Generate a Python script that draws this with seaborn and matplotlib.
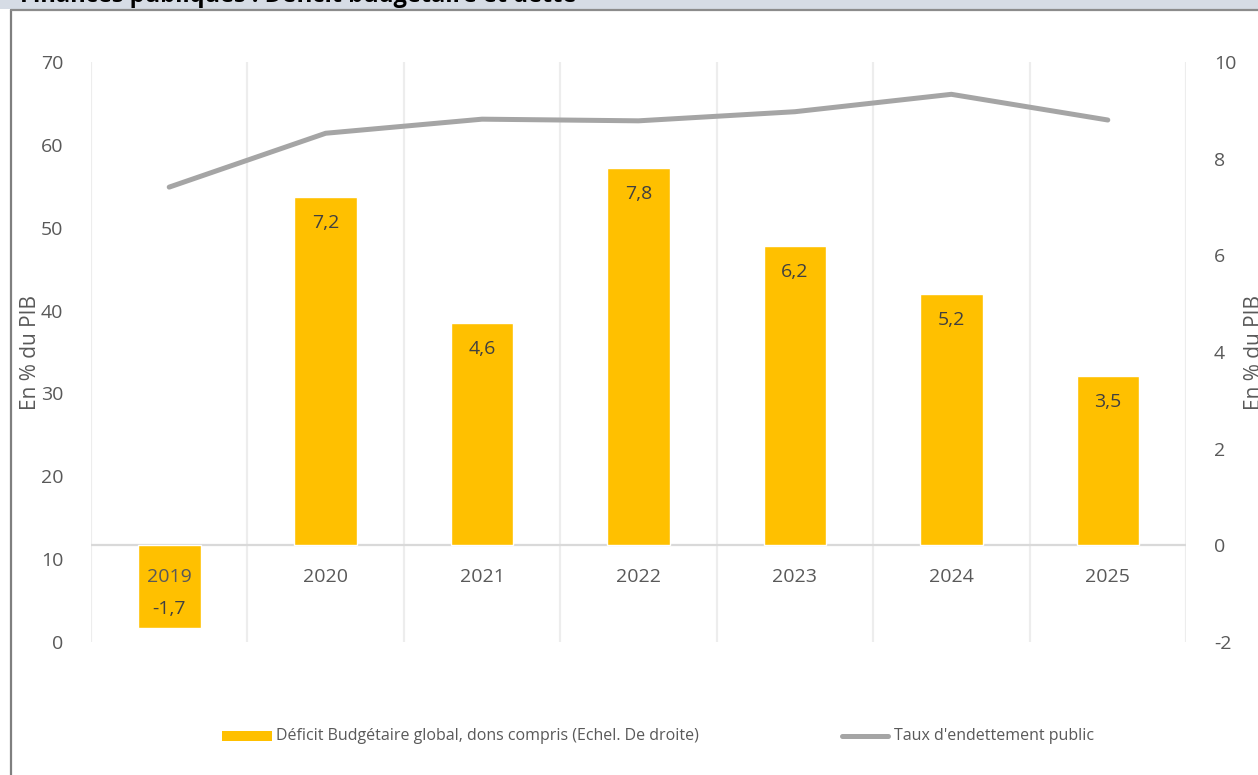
import numpy as np
import pandas as pd
import matplotlib
matplotlib.use("Agg")
import matplotlib.pyplot as plt
from matplotlib.patches import Rectangle
from matplotlib.lines import Line2D
import seaborn as sns

years = ["2019", "2020", "2021", "2022", "2023", "2024", "2025"]
deficit = [-1.7, 7.2, 4.6, 7.8, 6.2, 5.2, 3.5]
dette = [54.9, 61.4, 63.1, 62.9, 64.0, 66.1, 63.0]
deficit_labels = ["-1,7", "7,2", "4,6", "7,8", "6,2", "5,2", "3,5"]
left_ticks = [0, 10, 20, 30, 40, 50, 60, 70]
right_ticks = [-2, 0, 2, 4, 6, 8, 10]

title = "Finances publiques : Déficit budgétaire et dette"
ylabel = "En % du PIB"
leg_bar = "Déficit Budgétaire global, dons compris (Echel. De droite)"
leg_line = "Taux d'endettement public"

sns.set_theme(style="white")
plt.rcParams['font.family'] = ['Open Sans', 'DejaVu Sans']

BAR = "#FFC000"
LINE = "#A5A5A5"
TXT = "#595959"

df = pd.DataFrame({"year": years, "deficit": deficit, "dette": dette,
                   "pos": np.arange(len(years))})

fig = plt.figure(figsize=(12.58, 7.75), dpi=100)
W, H = 1258, 775

# Title band and frame
fig.patches.append(Rectangle((0, 1 - 9 / H), 1, 9 / H, transform=fig.transFigure,
                             facecolor="#D6DCE5", edgecolor="none", zorder=0))
fig.text(20 / W, 1 - 2 / H, title, fontsize=17, fontweight="bold", color="black",
         va="baseline", ha="left", family=['Open Sans', 'DejaVu Sans'])
fig.lines.append(Line2D([10.5 / W, 10.5 / W], [0, 1 - 9.5 / H], transform=fig.transFigure,
                        color="#7F7F7F", lw=1.6))
fig.lines.append(Line2D([10.5 / W, 1], [1 - 9.5 / H, 1 - 9.5 / H], transform=fig.transFigure,
                        color="#8C8C8C", lw=1.6))

ax = fig.add_axes([91 / W, 1 - 642 / H, (1186 - 91) / W, (642 - 62) / H])
ax2 = ax.twinx()
ax.set_zorder(2)
ax.patch.set_visible(False)

# Bars on right axis
sns.barplot(data=df, x="year", y="deficit", ax=ax2, color=BAR, width=0.4,
            saturation=1, zorder=3)
ax2.set_ylim(-2, 10)
ax2.set_xlim(-0.5, 6.5)
ax2.set_yticks(right_ticks)
ax2.set_yticklabels([str(t) for t in right_ticks])
ax2.set_xlabel("")
ax2.set_ylabel(ylabel, fontsize=15, color=TXT, labelpad=6)

# vertical gridlines at category boundaries and zero line
for b in np.arange(-0.5, 7.0, 1.0):
    ax2.axvline(b, color="#EDEDED", lw=1.6, zorder=0)
ax2.axhline(0, color="#D9D9D9", lw=1.6, zorder=1)

# Line on left axis
sns.lineplot(data=df, x="pos", y="dette", ax=ax, color=LINE, lw=3.6,
             solid_capstyle="round", zorder=4)
ax.set_ylim(0, 70)
ax.set_xlim(-0.5, 6.5)
ax.set_yticks(left_ticks)
ax.set_yticklabels([str(t) for t in left_ticks])
ax.set_xticks([])
ax.set_xlabel("")
ax.set_ylabel(ylabel, fontsize=15, color=TXT, labelpad=0)
ax2.set_xticks([])

for a in (ax, ax2):
    for s in a.spines.values():
        s.set_visible(False)
    a.tick_params(axis="y", labelsize=14, labelcolor=TXT, length=0, pad=20)

# category labels next to zero line
for i, y in enumerate(years):
    ax2.annotate(y, (i, 0), xytext=(0, -32 * 0.72), textcoords="offset points",
                 ha="center", va="center", fontsize=14, color=TXT, zorder=5)

# value labels inside bars
for i, (v, lab) in enumerate(zip(deficit, deficit_labels)):
    off = -26 if v > 0 else 19
    ax2.annotate(lab, (i, v), xytext=(0, off * 0.72), textcoords="offset points",
                 ha="center", va="center", fontsize=14, color="#404040", zorder=5)

# Legend
fig.patches.append(Rectangle((222 / W, 1 - 741 / H), 50 / W, 10 / H, transform=fig.transFigure,
                             facecolor=BAR, edgecolor="none"))
fig.text(276 / W, 1 - 736 / H, leg_bar, fontsize=11.5, color=TXT, va="center", ha="left")
fig.lines.append(Line2D([842 / W, 888 / W], [1 - 736 / H, 1 - 736 / H], transform=fig.transFigure,
                        color=LINE, lw=3.6, solid_capstyle="round"))
fig.text(894 / W, 1 - 736 / H, leg_line, fontsize=11.5, color=TXT, va="center", ha="left")

fig.savefig("out.png", dpi=100)
